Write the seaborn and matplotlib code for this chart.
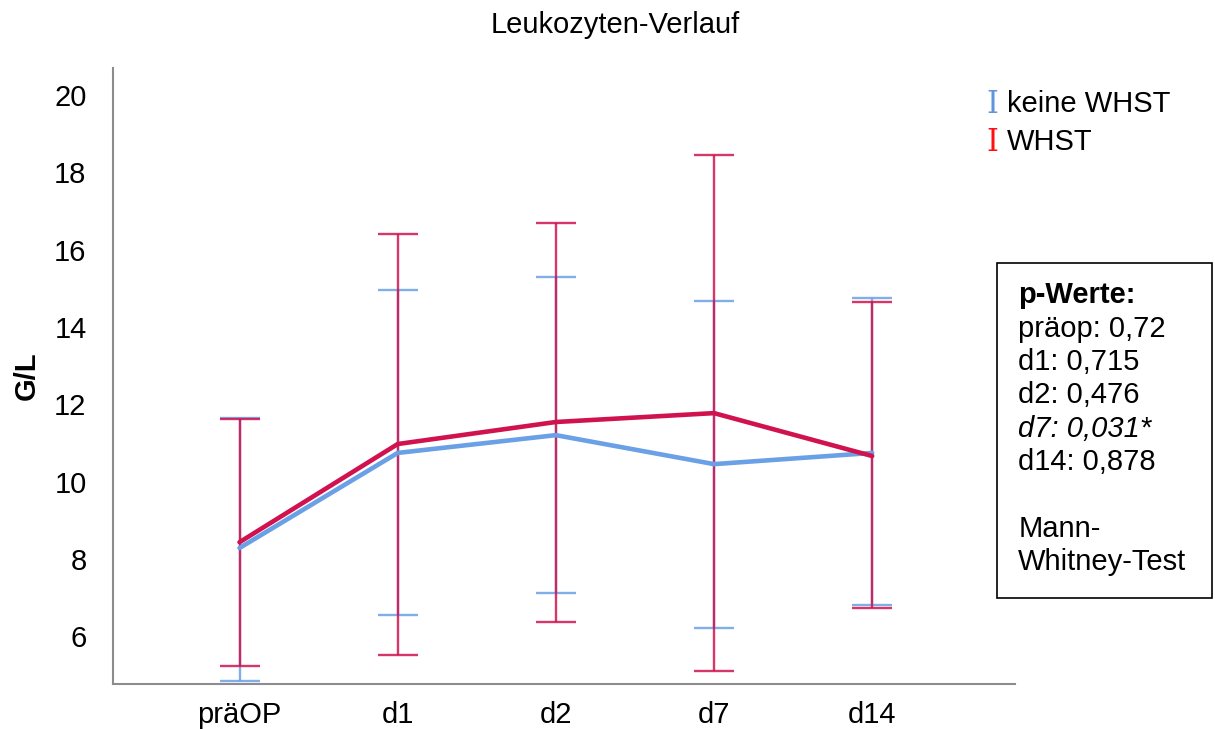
import numpy as np
import pandas as pd
import seaborn as sns
import matplotlib.pyplot as plt

# Leukocyte counts (G/L) per time point, mean with error bar range
timepoints = ["präOP", "d1", "d2", "d7", "d14"]
groups = ["keine WHST", "WHST"]

mean_keine = [8.28, 10.74, 11.20, 10.45, 10.74]
low_keine = [4.84, 6.54, 7.11, 6.21, 6.80]
high_keine = [11.64, 14.95, 15.29, 14.67, 14.75]

mean_whst = [8.43, 10.97, 11.54, 11.77, 10.66]
low_whst = [5.22, 5.51, 6.36, 5.09, 6.72]
high_whst = [11.62, 16.40, 16.69, 18.45, 14.64]

p_lines = ["präop: 0,72", "d1: 0,715", "d2: 0,476", "d7: 0,031*", "d14: 0,878"]

sns.set_style("white")
plt.rcParams["font.family"] = ["Liberation Sans", "DejaVu Sans"]
plt.rcParams["text.color"] = "black"

FS = 21
colors = {"keine WHST": "#6aa0e6", "WHST": "#d0134e"}

df = pd.DataFrame({
    "Zeitpunkt": timepoints * 2,
    "pos": list(range(len(timepoints))) * 2,
    "G/L": mean_keine + mean_whst,
    "low": low_keine + low_whst,
    "high": high_keine + high_whst,
    "Gruppe": [groups[0]] * len(timepoints) + [groups[1]] * len(timepoints),
})

fig = plt.figure(figsize=(12.15, 7.29), dpi=100)
ax = fig.add_axes([0.093, 0.0617, 0.742, 0.845])

# error bars first, lines on top
for g in groups:
    sub = df[df["Gruppe"] == g]
    yerr = np.vstack([sub["G/L"] - sub["low"], sub["high"] - sub["G/L"]])
    ax.errorbar(sub["pos"], sub["G/L"], yerr=yerr, fmt="none",
                ecolor=colors[g], elinewidth=1.7, capsize=14.5,
                capthick=1.7, alpha=0.85, zorder=2)

sns.lineplot(data=df, x="pos", y="G/L", hue="Gruppe", palette=colors,
             linewidth=3.3, legend=False, ax=ax, zorder=3)

ax.set_xlim(-0.80, 4.90)
ax.set_ylim(4.76, 20.70)
ax.set_xticks(range(len(timepoints)))
ax.set_xticklabels(timepoints)
ax.set_yticks([6, 8, 10, 12, 14, 16, 18, 20])
ax.tick_params(axis="both", length=0, labelsize=FS, colors="black")
ax.tick_params(axis="y", pad=19)
ax.tick_params(axis="x", pad=12)
ax.set_xlabel("")
ax.set_ylabel("G/L", fontsize=FS, fontweight="bold", labelpad=10, color="black")

for side in ["top", "right"]:
    ax.spines[side].set_visible(False)
for side in ["left", "bottom"]:
    ax.spines[side].set_color("#8c8c8c")
    ax.spines[side].set_linewidth(1.5)

fig.text(0.506, 0.966, "Leukozyten-Verlauf", ha="center", va="center", fontsize=FS)

# legend built from serif "I" glyphs
legend_y = [0.857, 0.805]
legend_cols = ["#5f95dc", "#ff1010"]
for y, g, c in zip(legend_y, groups, legend_cols):
    fig.text(0.8115, y, "I", color=c, fontsize=22, family="DejaVu Serif",
             ha="left", va="center")
    fig.text(0.829, y, g, fontsize=FS, ha="left", va="center")

# p-value box
box = plt.Rectangle((0.8205, 0.180), 0.177, 0.459, transform=fig.transFigure,
                    fill=False, edgecolor="black", linewidth=1.2)
fig.add_artist(box)
x0 = 0.838
y0 = 0.595
step = 0.0458
fig.text(x0, y0, "p-Werte:", fontsize=FS, fontweight="bold", ha="left", va="center")
for i, line in enumerate(p_lines):
    style = "italic" if line.startswith("d7") else "normal"
    fig.text(x0, y0 - step * (i + 1), line, fontsize=FS, style=style,
             ha="left", va="center")
fig.text(x0, y0 - step * 7, "Mann-", fontsize=FS, ha="left", va="center")
fig.text(x0, y0 - step * 8, "Whitney-Test", fontsize=FS, ha="left", va="center")

fig.savefig("out.png", dpi=100, facecolor="white")
